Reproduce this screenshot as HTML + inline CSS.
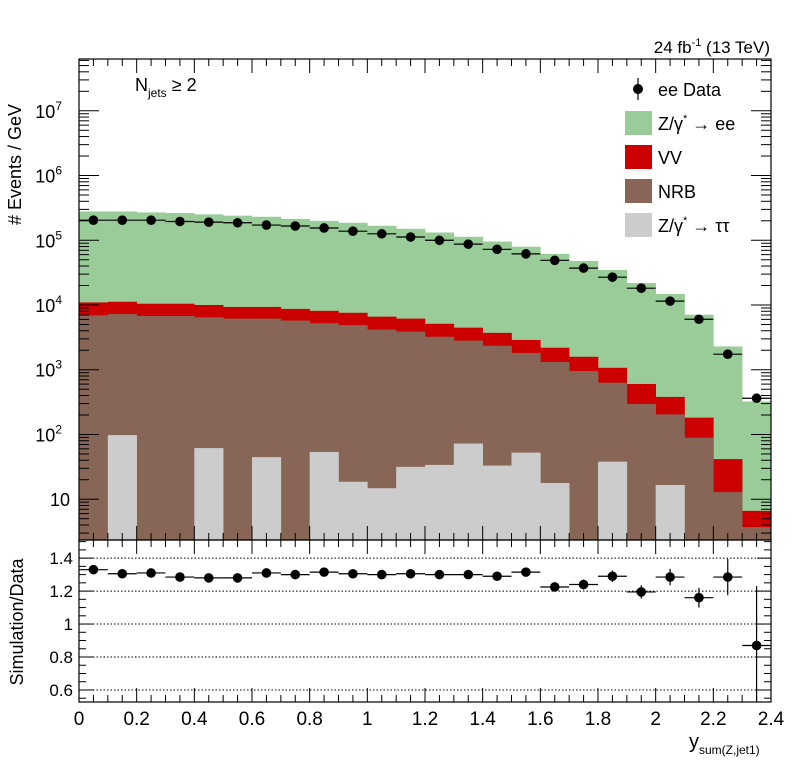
<!DOCTYPE html>
<html><head><meta charset="utf-8"><style>
body{margin:0;background:#fff;}
svg{display:block;font-family:"Liberation Sans",sans-serif;}
</style></head><body>
<svg id="c" width="796" height="772" viewBox="0 0 796 772">
<g id="main"></g>
<g id="ratio"></g>
<text x="770" y="53" text-anchor="end" font-size="17">24 fb<tspan dy="-7" font-size="11">-1</tspan><tspan dy="7"> (13 TeV)</tspan></text>
<text x="135" y="91" font-size="18">N<tspan dy="6" font-size="12">jets</tspan><tspan dy="-6"> ≥ 2</tspan></text>
<text transform="translate(21,225) rotate(-90)" font-size="18"># Events / GeV</text>
<text transform="translate(23,622) rotate(-90)" text-anchor="middle" font-size="18">Simulation/Data</text>
<text x="689" y="748" font-size="20">y<tspan dy="6" font-size="12">sum(Z,jet1)</tspan></text>
<g>
<circle cx="638" cy="89" r="5" fill="#000"/>
<line x1="638" y1="78" x2="638" y2="100" stroke="#000" stroke-width="1.2"/>
<text x="658" y="96" font-size="18">ee Data</text>
<rect x="625" y="111" width="27" height="24" fill="#99cc99"/>
<text x="658" y="130" font-size="18">Z/γ<tspan dy="-8" font-size="11">*</tspan><tspan dy="8"> → ee</tspan></text>
<rect x="625" y="145" width="27" height="24" fill="#cc0000"/>
<text x="658" y="164" font-size="18">VV</text>
<rect x="625" y="179" width="27" height="24" fill="#876657"/>
<text x="658" y="198" font-size="18">NRB</text>
<rect x="625" y="213" width="27" height="24" fill="#cccccc"/>
<text x="658" y="232" font-size="18">Z/γ<tspan dy="-8" font-size="11">*</tspan><tspan dy="8"> → ττ</tspan></text>
</g>
</svg>
<script>
// log10 values (stack tops)
const binEdges = [0,0.1,0.2,0.3,0.4,0.5,0.6,0.7,0.8,0.9,1.0,1.1,1.2,1.3,1.4,1.5,1.6,1.7,1.8,1.9,2.0,2.1,2.2,2.3,2.4];
const zeeTop = [5.445,5.445,5.43,5.42,5.40,5.38,5.363,5.33,5.30,5.27,5.224,5.178,5.12,5.054,4.98,4.90,4.79,4.68,4.54,4.34,4.17,3.85,3.36,2.51];
const vvTop = [4.04,4.05,4.02,4.02,4.00,3.97,3.97,3.94,3.91,3.88,3.82,3.79,3.71,3.65,3.57,3.46,3.34,3.20,3.03,2.78,2.58,2.26,1.62,0.82];
const nrbTop = [3.84,3.86,3.83,3.83,3.81,3.79,3.79,3.76,3.72,3.69,3.62,3.59,3.51,3.45,3.37,3.26,3.12,2.98,2.80,2.47,2.31,1.95,1.11,0.57];
const tautau = [0,1.99,0,0,1.79,0,1.65,0,1.73,1.27,1.17,1.50,1.53,1.86,1.52,1.72,1.25,0,1.58,0,1.22,0,0,0];
const dataVal = [5.31,5.31,5.31,5.29,5.28,5.27,5.235,5.22,5.19,5.14,5.10,5.05,5.00,4.94,4.86,4.79,4.69,4.57,4.43,4.26,4.06,3.78,3.24,2.56];
const ratioVal = [1.33,1.305,1.31,1.285,1.28,1.28,1.31,1.30,1.315,1.305,1.30,1.305,1.30,1.30,1.29,1.315,1.225,1.24,1.29,1.195,1.285,1.16,1.285,0.87];
const ratioErr = [0.012,0.012,0.012,0.012,0.012,0.012,0.013,0.013,0.014,0.014,0.015,0.016,0.017,0.018,0.02,0.022,0.025,0.03,0.035,0.04,0.05,0.06,0.11,0.36];
const xTickLabels = ["0","0.2","0.4","0.6","0.8","1","1.2","1.4","1.6","1.8","2","2.2","2.4"];
const rTickLabels = ["0.6","0.8","1","1.2","1.4"];

const NS="http://www.w3.org/2000/svg";
const L=79,R=771,MT=59,MB=540,RT=540,RB=702;
const LOGMIN=0.37,LOGMAX=7.8,RMIN=0.527,RMAX=1.51;
const xs=v=>L+(v-0)/(2.4)*(R-L);
const ys=lg=>MB-(lg-LOGMIN)/(LOGMAX-LOGMIN)*(MB-MT);
const yr=v=>RB-(v-RMIN)/(RMAX-RMIN)*(RB-RT);
function mk(p,tag,at){const e=document.createElementNS(NS,tag);for(const k in at)e.setAttribute(k,at[k]);p.appendChild(e);return e;}
const main=document.getElementById('main'), ratio=document.getElementById('ratio');
const clipD=mk(main,'defs',{});const cp=mk(clipD,'clipPath',{id:'cm'});mk(cp,'rect',{x:L,y:MT,width:R-L,height:MB-MT});
const gs=mk(main,'g',{'clip-path':'url(#cm)'});
function stack(vals,color,name){
  for(let i=0;i<vals.length;i++){
    if(vals[i]<=0)continue;
    const x0=xs(binEdges[i]),x1=xs(binEdges[i+1]),y=ys(vals[i]);
    const r=mk(gs,'rect',{x:x0,y:y,width:x1-x0+0.3,height:MB-y,fill:color});
    
    
  }
}
stack(zeeTop,'#99cc99','zee-bar');
stack(vvTop,'#cc0000','vv-bar');
stack(nrbTop,'#876657','nrb-bar');
stack(tautau,'#cccccc','ztautau-bar');
// data points
for(let i=0;i<dataVal.length;i++){
  const x0=xs(binEdges[i]),x1=xs(binEdges[i+1]),xc=(x0+x1)/2,y=ys(dataVal[i]);
  const g=mk(gs,'g',{});
  
  
  mk(g,'line',{x1:x0,x2:x1,y1:y,y2:y,stroke:'#000','stroke-width':1.2});
  mk(g,'circle',{cx:xc,cy:y,r:4.8,fill:'#000'});
}
// frames
for(const [t,b] of [[MT,MB],[RT,RB]]){
  const f=mk(main,'rect',{x:L,y:t,width:R-L,height:b-t,fill:'none',stroke:'#000','stroke-width':1.2});
  
  
}
// log y ticks
for(let d=0;d<=7;d++){
  for(let m=1;m<=9;m++){
    const lg=d+Math.log10(m); if(lg<LOGMIN||lg>LOGMAX)continue;
    const y=ys(lg),len=m==1?20:10;
    mk(main,'line',{x1:L,x2:L+len,y1:y,y2:y,stroke:'#000','stroke-width':1});
    mk(main,'line',{x1:R,x2:R-len,y1:y,y2:y,stroke:'#000','stroke-width':1});
  }
  if(d>=1){
    const t=mk(main,'text',{x:d==1?70:62,y:ys(d)+7,'text-anchor':'end','font-size':18});
    
    
    if(d==1)t.textContent='10';
    else{t.textContent='10';const s=mk(t,'tspan',{dy:-8,'font-size':12});s.textContent=String(d);}
  }
}
// x ticks
for(let k=0;k<=48;k++){
  const v=k*0.05,x=xs(v),maj=k%4==0,len=maj?14:7;
  mk(main,'line',{x1:x,x2:x,y1:MB,y2:MB-len,stroke:'#000'});
  mk(main,'line',{x1:x,x2:x,y1:MT,y2:MT+len,stroke:'#000'});
  mk(ratio,'line',{x1:x,x2:x,y1:RB,y2:RB-len,stroke:'#000'});
  mk(ratio,'line',{x1:x,x2:x,y1:RT,y2:RT+len,stroke:'#000'});
}
xTickLabels.forEach((s,i)=>{
  const t=mk(ratio,'text',{x:xs(i*0.2),y:725,'text-anchor':'middle','font-size':19});
  t.textContent=s;
  
  
});
// ratio y ticks & grid
for(let k=11;k<=30;k++){
  const v=k*0.05; if(v<RMIN||v>RMAX)continue;
  const y=yr(v),maj=k%4==0,len=maj?14:7;
  mk(ratio,'line',{x1:L,x2:L+len,y1:y,y2:y,stroke:'#000'});
  mk(ratio,'line',{x1:R,x2:R-len,y1:y,y2:y,stroke:'#000'});
}
rTickLabels.forEach(s=>{
  const v=parseFloat(s),y=yr(v);
  const gl=mk(ratio,'line',{x1:L,x2:R,y1:y,y2:y,stroke:'#000','stroke-dasharray':'1.5,2','stroke-width':1});
  
  
  const t=mk(ratio,'text',{x:73,y:y+6,'text-anchor':'end','font-size':17});
  t.textContent=s;
  
  
});
const rc=mk(clipD,'clipPath',{id:'cr'});mk(rc,'rect',{x:L,y:RT,width:R-L,height:RB-RT});
const gr=mk(ratio,'g',{'clip-path':'url(#cr)'});
for(let i=0;i<ratioVal.length;i++){
  const x0=xs(binEdges[i]),x1=xs(binEdges[i+1]),xc=(x0+x1)/2,y=yr(ratioVal[i]);
  const g=mk(gr,'g',{});
  
  
  mk(g,'line',{x1:x0,x2:x1,y1:y,y2:y,stroke:'#000','stroke-width':1.2});
  mk(g,'line',{x1:xc,x2:xc,y1:yr(ratioVal[i]-ratioErr[i]),y2:yr(ratioVal[i]+ratioErr[i]),stroke:'#000','stroke-width':1.2});
  mk(g,'circle',{cx:xc,cy:y,r:4.8,fill:'#000'});
}
</script>
</body></html>
